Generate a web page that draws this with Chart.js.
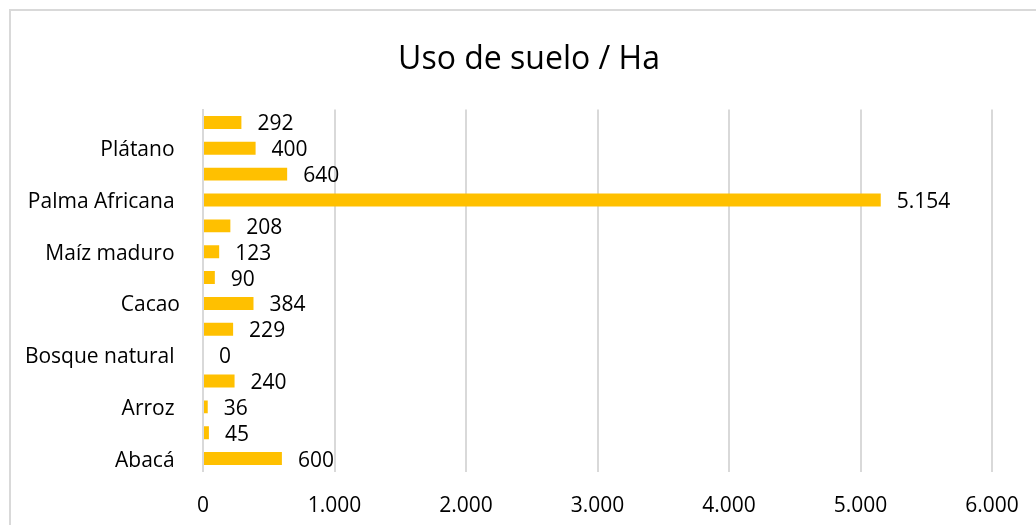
<!DOCTYPE html>
<html>
<head>
<meta charset="utf-8">
<script src="https://cdn.jsdelivr.net/npm/chart.js@4"></script>
<style>
  html, body { margin: 0; padding: 0; background: #fff; overflow: hidden; }
  #frame { position: absolute; left: 9px; top: 9px; width: 1100px; height: 600px; border: 2px solid #d9d9d9; box-sizing: border-box; }
  #wrap { position: absolute; left: 0; top: 0; width: 1036px; height: 525px; }
</style>
</head>
<body>
<div id="frame"></div>
<div id="wrap"><canvas id="suelo-chart" width="1036" height="525"></canvas></div>
<script>
// Data (first category is drawn at the bottom, like Excel)

var categories = ['Abacá ', 'Aguacate', 'Arroz ', 'Banano', 'Bosque natural ', 'Bosque secundario',
  'Cacao', 'Café', 'Maíz maduro ', 'Naranja', 'Palma Africana ', 'Pastos', 'Plátano ', 'Yuca'];
var hectares = [600, 45, 36, 240, 0, 229, 384, 90, 123, 208, 5154, 640, 400, 292];
var xTicks = [0, 1000, 2000, 3000, 4000, 5000, 6000];
var titleText = 'Uso de suelo / Ha';

var font = "'Open Sans', 'Liberation Sans', sans-serif";

function fmt(n) {
  return String(n).replace(/\B(?=(\d{3})+(?!\d))/g, '.');
}

// data labels at the bar ends + the title (Excel centres it on the whole frame)
var barLabels = {
  id: 'barLabels',
  afterDatasetsDraw: function (chart) {
    var ctx = chart.ctx;
    var meta = chart.getDatasetMeta(0);
    ctx.save();
    ctx.font = '21px ' + font;
    ctx.fillStyle = '#000';
    ctx.textAlign = 'left';
    ctx.textBaseline = 'middle';
    meta.data.forEach(function (bar, i) {
      ctx.fillText(fmt(hectares[i]), bar.x + 16, bar.y + 2);
    });
    ctx.font = '32px ' + font;
    ctx.textAlign = 'center';
    ctx.textBaseline = 'alphabetic';
    ctx.fillText(titleText, 529, 69);
    ctx.restore();
  }
};

var ctx = document.getElementById('suelo-chart').getContext('2d');

var myChart = new Chart(ctx, {
  type: 'bar',
  data: {
    labels: categories,
    datasets: [{
      label: 'Ha',
      data: hectares,
      backgroundColor: '#FFC000',
      borderWidth: 0,
      categoryPercentage: 1,
      barPercentage: 0.5
    }]
  },
  options: {
    indexAxis: 'y',
    responsive: false,
    animation: false,
    layout: { padding: { left: 0, right: 44, top: 109.5, bottom: 0 } },
    plugins: {
      legend: { display: false },
      tooltip: { enabled: false },
      title: { display: false }
    },
    scales: {
      x: {
        min: 0,
        max: 6000,
        afterBuildTicks: function (scale) {
          scale.ticks = xTicks.map(function (v) { return { value: v }; });
        },
        afterFit: function (scale) {
          scale.height = 53.5;
          scale.paddingLeft = 0;
          scale.paddingRight = 0;
        },
        grid: { color: '#d9d9d9', lineWidth: 2, drawTicks: false },
        border: { display: false },
        ticks: {
          color: '#000',
          padding: 22,
          font: { family: font, size: 21 },
          callback: function (v) { return fmt(v); }
        }
      },
      y: {
        reverse: true,
        afterFit: function (scale) { scale.width = 203; },
        grid: { display: false, drawTicks: false },
        border: { display: true, color: '#d9d9d9', width: 2 },
        ticks: {
          autoSkip: false,
          color: '#000',
          padding: 23,
          labelOffset: 2,
          font: { family: font, size: 21 },
          callback: function (v, i) { return i % 2 === 0 ? categories[i] : ''; }
        }
      }
    }
  },
  plugins: [barLabels]
});
</script>
</body>
</html>
